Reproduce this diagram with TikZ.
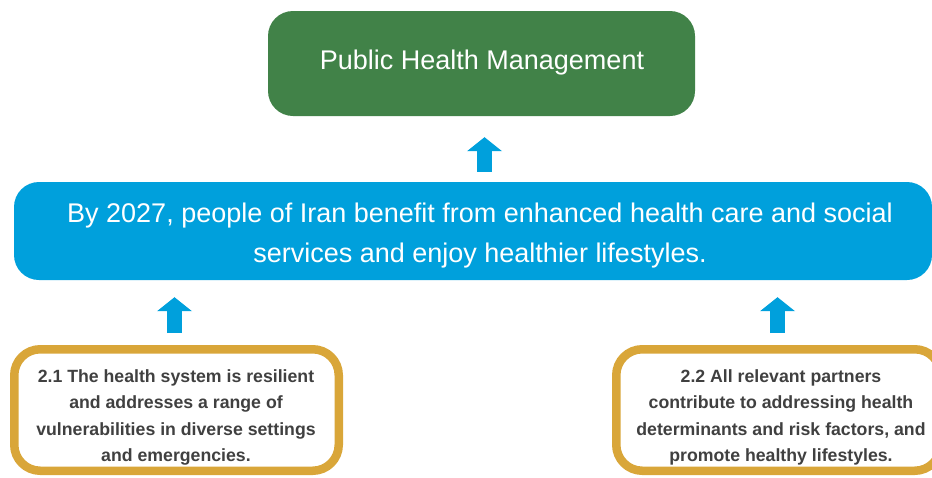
\documentclass[tikz,border=0pt]{standalone}
\usepackage{fontspec}
\setmainfont{Liberation Sans}
\usetikzlibrary{arrows.meta,calc}
\definecolor{boxgreen}{RGB}{65,130,72}
\definecolor{boxblue}{RGB}{0,160,220}
\definecolor{boxgold}{RGB}{217,166,57}
\definecolor{textgray}{RGB}{64,64,64}
\tikzset{
  greenbox/.style={fill=boxgreen, draw=none, rounded corners=25pt, minimum width=427pt, minimum height=105pt, inner sep=0pt},
  bluebox/.style={fill=boxblue, draw=none, rounded corners=25pt, minimum width=918pt, minimum height=98pt, inner sep=0pt},
  goldbox/.style={draw=boxgold, fill=white, line width=8.5pt, rounded corners=26pt, minimum width=324.5pt, minimum height=121.5pt, inner sep=0pt},
  whitetext/.style={text=white, align=center, inner sep=0pt, font=\fontsize{27pt}{40pt}\selectfont},
  goldtext/.style={text=textgray, align=center, inner sep=0pt, font=\fontsize{17.7pt}{26.5pt}\selectfont\bfseries},
  uparrow/.style={draw=boxblue, line width=15pt, -{Triangle[width=35pt,length=14pt,line width=0pt]}},
}
\begin{document}
\begin{tikzpicture}[x=1pt,y=-1pt]
\useasboundingbox (0,0) rectangle (932,477);
\node[greenbox] (green) at (481.5,63.5) {};
\node[whitetext, anchor=base] (greentext) at (482,69.5) {Public Health Management};
\node[bluebox] (blue) at (473,231) {};
\node[whitetext, anchor=base] (bluetext) at (480,262) {By 2027, people of Iran benefit from enhanced health care and social\\services and enjoy healthier lifestyles.};
\node[goldbox] (g1) at (176.5,410) {};
\node[goldbox] (g2) at (778.5,410) {};
\node[goldtext, anchor=base] (g1text) at (176,461.5) {2.1 The health system is resilient\\and addresses a range of\\vulnerabilities in diverse settings\\and emergencies.};
\node[goldtext, anchor=base] (g2text) at (781,461.5) {2.2 All relevant partners\\contribute to addressing health\\determinants and risk factors, and\\promote healthy lifestyles.};
\draw[uparrow, shorten <=10pt, shorten >=21pt] ([xshift=3pt]blue.north -| green.south) -- ([xshift=3pt]green.south);
\draw[uparrow, shorten <=12pt, shorten >=17pt] ([xshift=-2pt]g1.north) -- ([xshift=-2pt]g1.north |- blue.south);
\draw[uparrow, shorten <=12pt, shorten >=17pt] ([xshift=-1pt]g2.north) -- ([xshift=-1pt]g2.north |- blue.south);
\end{tikzpicture}
\end{document}
